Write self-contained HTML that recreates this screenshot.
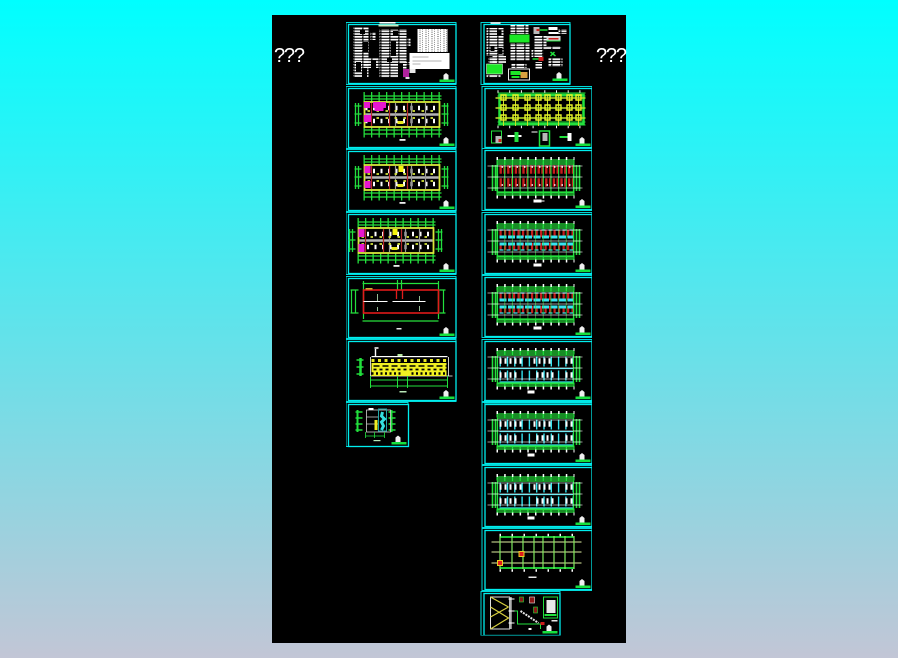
<!DOCTYPE html>
<html lang="en"><head><meta charset="utf-8"><title>Drawing sheets</title>
<style>html,body{margin:0;padding:0;background:#000}svg{display:block}</style></head>
<body>
<svg xmlns="http://www.w3.org/2000/svg" width="898" height="658" viewBox="0 0 898 658">
<defs>
<filter id="b" x="0" y="0" width="100%" height="100%"><feGaussianBlur stdDeviation=".3"/></filter>
<linearGradient id="bg" x1="0" y1="0" x2="0" y2="1"><stop offset="0" stop-color="#00ffff"/><stop offset="1" stop-color="#c2c6d6"/></linearGradient>
<pattern id="t" width="9" height="2.8" patternUnits="userSpaceOnUse"><rect width="7.500" height="1.700" fill="#fff"/><rect x="8" width=".6" height="1.200" fill="#ddd"/></pattern>
<pattern id="t2" width="6" height="2.200" patternUnits="userSpaceOnUse"><rect width="6" height="2.200" fill="#fff"/><rect x="2" y="1" width="1" height=".8" fill="#222"/><rect x="4.500" y=".2" width=".8" height=".8" fill="#444"/></pattern>

<g id="tb"><path d="M-11 -3V-8L-8.500 -10L-6 -8V-3Z" fill="#f0f0f0"/><rect x="-15" y="-3.500" width="15" height="2.500" fill="#19e03c"/></g>
<g id="fL"><rect x=".5" y=".5" width="110" height="62" fill="none" stroke="#00d8d8"/><rect x="3" y="2.500" width="107.500" height="59" fill="#000" stroke="#00eeee" stroke-width="1.300"/><use href="#tb" x="109" y="61"/></g>
<g id="fR"><rect x=".5" y=".5" width="110" height="62" fill="none" stroke="#00d8d8"/><rect x="3.500" y="2.500" width="107" height="59" fill="#000" stroke="#00eeee" stroke-width="1.300"/><use href="#tb" x="109" y="61"/></g>

<!-- left floor plan, local to sheet -->
<g id="lp">
<g fill="none" stroke="#22e03c">
<path d="M18 10H96M18 13H96M18 44H96M18 48H96" stroke-width="1.300"/>
<path d="M18 11H96" stroke-width="10" stroke-dasharray="1.300 6.200"/>
<path d="M18 46H96" stroke-width="11" stroke-dasharray="1.300 6.200"/>
<path d="M10 17V40M13 17V40M99 17V40M102 17V40" stroke-width="1.300"/>
<path d="M9 20H16M9 28H16M9 37H16M96 20H103M96 28H103M96 37H103" stroke-width="1.200"/>
</g>
<rect x="19" y="16" width="75" height="25" fill="#000" stroke="#d8e83a" stroke-width="1.800"/>
<path d="M20 28.500H93" stroke="#b4b4b4" stroke-width="2.500"/>
<path d="M20 22H93M20 35H93" stroke="#fff" stroke-width="4.500" stroke-dasharray="2 5.500"/>
<path d="M26 17V40M44 17V40M62 17V40" stroke="#b82c2c" stroke-width="1.200"/>
<path d="M50 17V40M66 17V40M80 17V40" stroke="#999" stroke-width="1.200"/>
<path d="M22 25H92M22 32H92" stroke="#d8e83a" stroke-width="1.800" stroke-dasharray="2.500 6.500"/>
<rect x="54" y="53" width="6" height="1.800" fill="#eee"/>
<rect x="52" y="35" width="6" height="3" fill="#e8e81e"/>
</g>

<!-- right plans -->
<g id="rband" fill="none" stroke="#22e03c">
<path d="M15 12H93M15 14H93M15 45H93M15 47H93" stroke-width="1.300"/>
<path d="M15 13H93M15 46H93" stroke-width="5" stroke-dasharray="1.200 6.500"/>
<path d="M16 16H92V44H16Z" stroke-width="1.200"/>
<path d="M11 17V43M14 17V43M95 17V43M98 17V43" stroke-width="1.600"/>
<path d="M10 18H16M10 29H16M10 40H16M93 18H99M93 29H99M93 40H99"/>
<path d="M15 10.500H93M15 49H93" stroke="#fff" stroke-width="3" stroke-dasharray="1.500 6.200"/>
<path d="M6 18H101M6 29H101M6 40H101" stroke="#fff" stroke-width=".8" opacity=".8"/>
</g>
<path id="rv" d="M15 29.500H93" stroke="#22e03c" stroke-width="30" stroke-dasharray="1.100 6.600" fill="none"/>
<g id="rr">
<path d="M18 21.500H92M18 34.500H92" stroke="#c81c1c" stroke-width="8.500" stroke-dasharray="2.400 1.400" fill="none"/>
<use href="#rv"/><use href="#rband"/>
<path d="M20 19H92M20 37H92" stroke="#fff" stroke-width="1.500" stroke-dasharray="1.500 6" fill="none"/>
<rect x="52" y="51.500" width="8" height="3" fill="#fff"/><rect x="60" y="52.500" width="3" height="1" fill="#fff"/></g>
<g id="rc">
<path d="M18 21.500H92M18 34.500H92" stroke="#c81c1c" stroke-width="7.500" stroke-dasharray="2.200 2.300" fill="none"/>
<path d="M18 25H92M18 32H92" stroke="#35e4f0" stroke-width="3" stroke-dasharray="7 1.500" fill="none"/>
<path d="M18 18H92M18 38H92" stroke="#35e4f0" stroke-width="1.300" stroke-dasharray="4 3" fill="none"/>
<use href="#rv" opacity=".55"/><use href="#rband"/>
<rect x="52" y="51.500" width="8" height="3" fill="#fff"/></g>
<g id="rw">
<path d="M18 22.500H92M18 36.500H92" stroke="#35e4f0" stroke-width="10" stroke-dasharray="1.400 5.900" fill="none"/>
<path d="M18 29.500H92M18 43H92" stroke="#35e4f0" stroke-width="1.300" fill="none"/>
<use href="#rband"/>
<path d="M18 22H40M52 22H70M84 22H92M18 36H36M55 36H74M84 36H92" stroke="#fff" stroke-width="5.500" stroke-dasharray="2 3" fill="none"/>
<rect x="46" y="51.500" width="7" height="3" fill="#fff"/></g>
</defs>

<rect width="898" height="658" fill="url(#bg)"/>
<rect x="272" y="15" width="354" height="628" fill="#000"/>

<text x="274" y="62" font-family="'Liberation Sans',sans-serif" font-size="20" fill="#fff" letter-spacing="-1.200">???</text>
<text x="596" y="62" font-family="'Liberation Sans',sans-serif" font-size="20" fill="#fff" letter-spacing="-1.200">???</text>

<g filter="url(#b)">
<!-- LEFT COLUMN -->
<g transform="translate(345.500 22)"><use href="#fL"/>
<rect x="34" y="0" width="16" height="1.500" fill="#fff"/><rect x="33" y="2.500" width="20" height="2" fill="#c8e8c0"/>
<rect x="8" y="5" width="15" height="50" fill="url(#t)"/>
<rect x="25" y="10" width="5" height="8" fill="url(#t)"/>
<rect x="9" y="36" width="24" height="10" fill="url(#t)"/>
<rect x="34" y="7" width="27" height="49" fill="url(#t)"/>
<path d="M17 8V12M20 20V30M13 40V50M19 46V55M50 9V14M48 19V34M44 36V40M55 42V56M28 38V46" stroke="#000" stroke-width="5"/>
<rect x="62" y="16" width="3" height="8" fill="url(#t)"/><rect x="58" y="40" width="14" height="2.500" fill="url(#t)"/>
<rect x="72" y="7" width="30" height="23" fill="url(#t2)"/>
<rect x="64" y="31" width="40" height="16" fill="#fff"/><path d="M67 35H83M67 39H96M67 42H75" stroke="#666" stroke-width=".5"/>
<rect x="57.500" y="47" width="6" height="8" fill="#b0209c"/>
<rect x="64" y="47" width="6" height="4" fill="#e8e8e8"/><rect x="60" y="55" width="4" height="2" fill="#ddd"/>
</g>
<g transform="translate(345.500 86)"><use href="#fL"/><use href="#lp"/>
<rect x="18.500" y="16" width="6" height="6" fill="#e818d0"/><rect x="27.500" y="16" width="13" height="6" fill="#e818d0"/><rect x="29" y="22" width="9" height="3" fill="#e818d0"/><rect x="18.500" y="29" width="7" height="7" fill="#e818d0"/>
</g>
<g transform="translate(345.500 149)"><use href="#fL"/><use href="#lp"/>
<rect x="19" y="17" width="6" height="7" fill="#e818d0"/><rect x="19" y="32" width="6" height="7" fill="#e818d0"/><rect x="53" y="17" width="5" height="6" fill="#f4f410"/>
</g>
<g transform="translate(339.500 212)"><use href="#fL" x="6"/><use href="#lp"/>
<rect x="19" y="17" width="6" height="8" fill="#e818d0"/><rect x="19" y="32" width="6" height="8" fill="#e818d0"/><rect x="53" y="17" width="5" height="6" fill="#f4f410"/>
</g>
<g transform="translate(345.500 276)"><use href="#fL"/>
<g fill="none" stroke="#22e03c" stroke-width="1.200"><path d="M6 14V37M10 14V37M93 14V37M98 14V37M18 5V43"/><path d="M5 14H13M5 37H13M94 14H100M94 37H100M17 7.500H93M17 45H93M52 4V14M56 4V14M93 5V43"/></g>
<rect x="18" y="14" width="75" height="23" fill="none" stroke="#e01c1c" stroke-width="1.600"/>
<path d="M51 14V23M57 14V23" stroke="#e01c1c" stroke-width="1.300"/>
<path d="M18 25.500H42M47 25.500H80" stroke="#fff" stroke-width="1"/>
<rect x="20" y="12" width="7" height="1.500" fill="#c8b030"/>
<path d="M32 18V25M32 31V35M74 20V25M74 30V35" stroke="#b8e8b8" stroke-width=".8"/>
<rect x="51" y="52" width="5" height="1.500" fill="#e8e8e8"/>
</g>
<g transform="translate(345.500 339)"><use href="#fL"/>
<rect x="26" y="17" width="76" height="1.200" fill="#fff"/><path d="M25 18V37H107" fill="none" stroke="#fff" stroke-width=".8"/><path d="M103 18V37" stroke="#fff" stroke-width=".8"/>
<rect x="26" y="24" width="75" height="13" fill="#f0f020"/>
<path d="M26 21.500H101" stroke="#e8e820" stroke-width="3" stroke-dasharray="3 3.500"/>
<path d="M28 27H101" stroke="#000" stroke-width="1.500" stroke-dasharray="6 3"/>
<path d="M28 30.500H101" stroke="#000" stroke-width="1.800" stroke-dasharray="3 3"/>
<path d="M26 34.500H55M66 34.500H101" stroke="#000" stroke-width="2.500" stroke-dasharray="2 2.500"/>
<rect x="58" y="32" width="6" height="5" fill="#f0f020"/>
<path d="M29 9H33M30 10V17" stroke="#fff" stroke-width="1.400"/><rect x="52" y="15" width="5" height="2" fill="#b8e8a0"/>
<path d="M11 21H18M11 28H18M11 35H18" stroke="#22e03c" stroke-width="1.400"/><path d="M15 19V37" stroke="#22e03c" stroke-width="2.500"/>
<path d="M25 41H102M25 47H102M25 37V49M52 37V49M62 37V49M102 37V49" stroke="#22e03c" fill="none" stroke-width="1"/>
<rect x="54" y="52" width="7" height="1.500" fill="#b8e8b8"/>
</g>
<g transform="translate(345.500 402)">
<rect x=".5" y=".5" width="62" height="44" fill="none" stroke="#00d8d8"/><rect x="3" y="2.500" width="60" height="42" fill="#000" stroke="#00eeee" stroke-width="1.300"/><use href="#tb" x="61" y="43.500"/>
<path d="M10 10H17M10 16H17M10 22H17M10 28H17M43 10H50M43 16H50M43 22H50M43 28H50" stroke="#22e03c" stroke-width="1.400"/>
<path d="M12 8V30M46 8V30" stroke="#22e03c" stroke-width="2"/>
<rect x="21" y="8" width="24" height="22" fill="none" stroke="#d0d0d0" stroke-width=".8"/>
<path d="M21 15H33M21 22H33" stroke="#d0d0d0" stroke-width=".8"/><rect x="23" y="6" width="5" height="2" fill="#fff"/>
<rect x="33" y="7" width="8" height="22" fill="none" stroke="#22a8a8"/>
<path d="M37 10L36 14L39 17L36 20L38 24L36 28" stroke="#35e0e0" stroke-width="3" fill="none"/>
<rect x="29" y="18" width="3" height="10" fill="#f0f020"/>
<path d="M20 30V36M29 30V36M39 30V36M20 34H39" stroke="#22e03c" stroke-width=".8"/>
<rect x="28" y="38" width="7" height="1.200" fill="#b8e8b8"/>
</g>

<!-- RIGHT COLUMN -->
<g transform="translate(480.500 22)">
<rect x=".5" y=".5" width="89" height="62" fill="none" stroke="#00d8d8"/><rect x="3.500" y="2.500" width="86" height="59" fill="#000" stroke="#00eeee" stroke-width="1.300"/><use href="#tb" x="87" y="60"/>
<rect x="10" y="0" width="10" height="2" fill="#c8e8e8"/>
<rect x="6" y="6" width="17" height="28" fill="url(#t)"/><rect x="8" y="35" width="8" height="6" fill="url(#t)"/><rect x="12" y="34" width="14" height="7" fill="url(#t)"/>
<path d="M19 8V13M12 24V29M20 26V32" stroke="#000" stroke-width="4"/>
<rect x="30" y="3" width="18" height="9" fill="url(#t)"/><rect x="30" y="21" width="19" height="18" fill="url(#t)"/>
<rect x="29" y="12.500" width="20" height="8" fill="#1ee828"/>
<rect x="6" y="42" width="16" height="10" fill="#1ee828" stroke="#fff" stroke-width=".5"/><rect x="6" y="53" width="14" height="3" fill="url(#t)"/>
<rect x="31" y="41" width="15" height="5" fill="url(#t)"/>
<rect x="28" y="47" width="21" height="11" fill="#000" stroke="#e8e8e8"/>
<rect x="30" y="49" width="10" height="4" fill="#1ee828"/><rect x="40" y="50" width="7" height="6" fill="#d8a040"/><rect x="31" y="54" width="8" height="2" fill="#1ee828"/>
<rect x="53" y="5" width="6" height="7" fill="#b8b8b8"/><path d="M59 8H67" stroke="#22e03c" stroke-width="1.500"/><rect x="56" y="7" width="3" height="2" fill="#cf1f1f"/>
<rect x="68" y="5" width="9" height="3" fill="#fff"/><rect x="78" y="7" width="8" height="5" fill="url(#t)"/><rect x="68" y="10" width="10" height="2" fill="#fff"/>
<rect x="54" y="14" width="12" height="14" fill="url(#t)"/><rect x="51" y="28" width="12" height="7" fill="url(#t)"/>
<rect x="66" y="14" width="14" height="5" fill="#d8d8d8"/><rect x="68" y="16" width="10" height="1.500" fill="#cf1f1f"/><path d="M66 19H80" stroke="#22e03c"/>
<rect x="66" y="24" width="15" height="3" fill="url(#t)"/><path d="M70 30L75 34M74 30L70 34" stroke="#22e03c" stroke-width="1.500"/>
<rect x="68" y="36" width="14" height="9" fill="url(#t)"/>
<path d="M52 37H62" stroke="#22e03c" stroke-width="1.500"/><rect x="58" y="35" width="5" height="4" fill="#cf1f1f"/><rect x="55" y="40" width="7" height="7" fill="url(#t)"/>
</g>
<g transform="translate(481.500 86)"><use href="#fR"/>
<path d="M16 7H104M16 10H104M16 36H104M16 39H104" stroke="#22e03c" stroke-width="1" fill="none"/>
<rect x="18" y="9" width="84" height="29" fill="none" stroke="#22e03c" stroke-width="2.500"/>
<path d="M14 12H104M14 22H104M14 32H104" stroke="#b8e028" stroke-width="1.400"/>
<path d="M22 9V40M34 9V40M46 9V40M57 9V40M66 9V40M77 9V40M88 9V40M97 9V40" stroke="#c8e028" stroke-width="1"/>
<g fill="none" stroke="#e4f028" stroke-width="1.400"><path id="sq" d="M19.500 9h5v5h-5zM31.500 9h5v5h-5zM43.500 9h5v5h-5zM54.500 9h5v5h-5zM63.500 9h5v5h-5zM74.500 9h5v5h-5zM85.500 9h5v5h-5zM94.500 9h5v5h-5z"/><use href="#sq" y="10"/><use href="#sq" y="20"/></g>
<path d="M16 5.500H102M16 41H102" stroke="#fff" stroke-width="2.500" stroke-dasharray="1 10.700"/>
<rect x="10" y="45" width="10" height="12" fill="none" stroke="#22e03c"/><rect x="14" y="50" width="6" height="7" fill="#b8b8b8"/><rect x="17" y="53" width="3" height="3" fill="#cf1f1f"/>
<path d="M26 50H40" stroke="#fff" stroke-width="2"/><rect x="33" y="46" width="4" height="10" fill="#22e03c"/>
<rect x="58" y="45" width="10" height="15" fill="none" stroke="#22e03c" stroke-width="1.500"/><rect x="61" y="47" width="5" height="8" fill="#b8b8b8"/><path d="M50 46H56" stroke="#fff"/>
<path d="M78 51H90" stroke="#22e03c" stroke-width="2"/><rect x="86" y="47" width="4" height="8" fill="#fff"/>
</g>
<g transform="translate(481.500 148)"><use href="#fR"/><use href="#rr"/></g>
<g transform="translate(481.500 212)"><use href="#fR"/><use href="#rc"/></g>
<g transform="translate(481.500 275)"><use href="#fR"/><use href="#rc"/></g>
<g transform="translate(481.500 339)"><use href="#fR"/><use href="#rw"/></g>
<g transform="translate(481.500 402)"><use href="#fR"/><use href="#rw"/></g>
<rect x="484" y="400" width="108" height="3.500" fill="#00e8e8"/>
<g transform="translate(481.500 465)"><use href="#fR"/><use href="#rw"/></g>
<g transform="translate(481.500 528)"><use href="#fR"/>
<path d="M18 9H93M18 40H93" stroke="#22e03c" stroke-width="1.800"/>
<path d="M10 14H100M10 24H100M10 35H100" stroke="#e0f0a0" stroke-width="1"/>
<path d="M18.500 8V41M30.500 8V41M41.500 8V41M52.500 8V41M61.500 8V41M72.500 8V41M83.500 8V41M92.500 8V41" stroke="#7fe85a" stroke-width="1.200"/>
<path d="M18 7H93M18 42.500H93" stroke="#fff" stroke-width="2.500" stroke-dasharray="1.500 10.500"/>
<rect x="37.500" y="23.500" width="5" height="5" fill="#e01a1a" stroke="#e8d020"/><rect x="16" y="32.500" width="5" height="5" fill="#e01a1a" stroke="#e8d020"/>
<rect x="47" y="48.500" width="8" height="1.500" fill="#e8e8e8"/>
</g>
<g transform="translate(480.500 591)">
<rect x=".5" y=".5" width="79" height="44" fill="none" stroke="#00d8d8"/><rect x="3.500" y="2.500" width="76" height="42" fill="#000" stroke="#00eeee" stroke-width="1.300"/><use href="#tb" x="77" y="43.500"/>
<path d="M10 6H29V38H10Z" fill="none" stroke="#e0e0e0"/>
<path d="M10 6L28 16M28 16L10 26M10 16L28 27L10 38" fill="none" stroke="#d8d040" stroke-width="1.200"/>
<path d="M30 6V38" stroke="#b0b0b0" stroke-width="2.500"/>
<path d="M28 8H34M28 20H34M28 32H34" stroke="#fff"/>
<rect x="39" y="6" width="4" height="5" fill="#8c1616" stroke="#22e03c" stroke-width=".6"/><rect x="49" y="6" width="5" height="6" fill="#8c1616" stroke="#e8e8e8" stroke-width=".6"/><rect x="53" y="16" width="4" height="6" fill="#8c1616" stroke="#22e03c" stroke-width=".6"/>
<path d="M34 20H37V33H60V38" fill="none" stroke="#22e03c"/><path d="M40 20L58 32" stroke="#e8e8e8" stroke-width="2" stroke-dasharray="2 1"/><rect x="60" y="31" width="4" height="3" fill="#cf1f1f"/>
<rect x="63" y="6" width="14" height="21" fill="#000" stroke="#22e03c"/><rect x="66" y="9" width="9" height="13" fill="#e8e8e8"/><path d="M64 24H76" stroke="#22e03c" stroke-width="2"/>
<rect x="48" y="37" width="3" height="2" fill="#fff"/><rect x="71" y="29" width="6" height="1.500" fill="#e8e8e8"/>
</g>
</g>
</svg>
</body></html>
